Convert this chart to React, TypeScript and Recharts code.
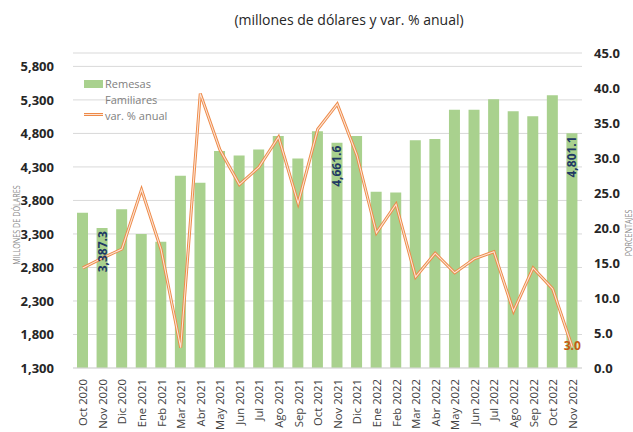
import React from 'react';
import {
  ComposedChart,
  Bar,
  Line,
  XAxis,
  YAxis,
  CartesianGrid,
  LabelList,
} from 'recharts';

const months = [
  'Oct 2020', 'Nov 2020', 'Dic 2020', 'Ene 2021', 'Feb 2021', 'Mar 2021', 'Abr 2021',
  'May 2021', 'Jun 2021', 'Jul 2021', 'Ago 2021', 'Sep 2021', 'Oct 2021', 'Nov 2021',
  'Dic 2021', 'Ene 2022', 'Feb 2022', 'Mar 2022', 'Abr 2022', 'May 2022', 'Jun 2022',
  'Jul 2022', 'Ago 2022', 'Sep 2022', 'Oct 2022', 'Nov 2022',
];

const remesas = [
  3616, 3387.3, 3667, 3299, 3185, 4167, 4063, 4539, 4471, 4560, 4762, 4426, 4832, 4661.6,
  4762, 3929, 3920, 4698, 4718, 5155, 5155, 5309, 5130, 5056, 5368, 4801.1,
];

const variacion = [
  14.3, 15.7, 17.0, 25.5, 16.9, 2.9, 39.2, 31.2, 26.2, 28.7, 33.0, 23.5, 34.1, 37.7,
  30.4, 19.3, 23.4, 13.0, 16.4, 13.6, 15.6, 16.6, 8.1, 14.3, 11.3, 3.0,
];

const leftTicks = [1300, 1800, 2300, 2800, 3300, 3800, 4300, 4800, 5300, 5800];
const rightTicks = [0, 5, 10, 15, 20, 25, 30, 35, 40, 45];
const barLabelIdx = [1, 13, 25];
const lineLabelIdx = [25];

const data = months.map((m, i) => ({ mes: m, remesas: remesas[i], variacion: variacion[i] }));

const FONT = '"Open Sans", sans-serif';

const XTick = (props: any) => {
  const { x, y, payload } = props;
  return (
    <text
      x={x}
      y={y}
      transform={`rotate(-90, ${x}, ${y})`}
      textAnchor="end"
      dominantBaseline="central"
      fontSize={11.3}
      fontFamily={FONT}
      fill="#404040"
    >
      {payload.value}
    </text>
  );
};

const BarLabel = (props: any) => {
  const { x, y, width, value, index } = props;
  if (!barLabelIdx.includes(index)) return null;
  const cx = x + width / 2;
  const ty = y + 3;
  return (
    <text
      x={cx}
      y={ty}
      transform={`rotate(-90, ${cx}, ${ty})`}
      textAnchor="end"
      dominantBaseline="central"
      fontSize={12}
      fontWeight="bold"
      fontFamily={FONT}
      fill="#203864"
    >
      {Number(value).toLocaleString('en-US', { minimumFractionDigits: 1, maximumFractionDigits: 1 })}
    </text>
  );
};

const LineLabel = (props: any) => {
  const { x, y, value, index } = props;
  if (!lineLabelIdx.includes(index)) return null;
  return (
    <text
      x={x}
      y={y - 2}
      textAnchor="middle"
      dominantBaseline="central"
      fontSize={12}
      fontWeight="bold"
      fontFamily={FONT}
      fill="#C55A11"
    >
      {Number(value).toFixed(1)}
    </text>
  );
};

export default function App() {
  return (
    <div style={{ position: 'absolute', left: 0, top: 0, width: 633, height: 432, background: '#fff' }}>
      <ComposedChart
        width={633}
        height={432}
        data={data}
        margin={{ top: 53, right: 0, bottom: 0, left: 0 }}
        barCategoryGap={0}
      >
        <CartesianGrid yAxisId="left" vertical={false} stroke="#d9d9d9" strokeWidth={1} />
        <XAxis
          dataKey="mes"
          interval={0}
          height={64}
          tick={<XTick />}
          tickLine={false}
          axisLine={{ stroke: '#d9d9d9' }}
          tickMargin={5}
        />
        <YAxis
          yAxisId="left"
          orientation="left"
          width={73}
          domain={[1300, 6000]}
          ticks={leftTicks}
          allowDataOverflow
          axisLine={false}
          tickLine={false}
          tickMargin={13}
          tick={{ fontSize: 13, fontWeight: 'bold', fontFamily: FONT, fill: '#262626' }}
          tickFormatter={(v: number) => v.toLocaleString('en-US')}
        />
        <YAxis
          yAxisId="right"
          orientation="right"
          width={51}
          domain={[0, 45]}
          ticks={rightTicks}
          axisLine={false}
          tickLine={false}
          tickMargin={6}
          tick={{ fontSize: 13, fontWeight: 'bold', fontFamily: FONT, fill: '#262626', textAnchor: 'start' }}
          tickFormatter={(v: number) => v.toFixed(1)}
        />
        <Bar yAxisId="left" dataKey="remesas" fill="#A9D18E" barSize={11} isAnimationActive={false}>
          <LabelList dataKey="remesas" content={<BarLabel />} />
        </Bar>
        <Line
          yAxisId="right"
          dataKey="variacion"
          stroke="#EE8A48"
          strokeWidth={3}
          dot={false}
          isAnimationActive={false}
        />
        <Line
          yAxisId="right"
          dataKey="variacion"
          stroke="#FCE4D6"
          strokeWidth={1.1}
          dot={false}
          isAnimationActive={false}
        >
          <LabelList dataKey="variacion" content={<LineLabel />} />
        </Line>
      </ComposedChart>

      <div
        style={{
          position: 'absolute', left: 0, top: 10, width: 698, textAlign: 'center',
          fontFamily: FONT, fontSize: 14, color: '#262626', whiteSpace: 'nowrap',
        }}
      >
        (millones de dólares y var. % anual)
      </div>

      <div style={{ position: 'absolute', left: 16, top: 225, width: 0, height: 0 }}>
        <div
          style={{
            position: 'absolute', left: 0, top: 0,
            transform: 'translate(-50%, -50%) rotate(-90deg) scaleX(0.8)',
            fontFamily: FONT, fontSize: 9, color: '#8c8c8c', whiteSpace: 'nowrap',
          }}
        >
          MILLONES DE DÓLARES
        </div>
      </div>

      <div style={{ position: 'absolute', left: 628, top: 233, width: 0, height: 0 }}>
        <div
          style={{
            position: 'absolute', left: 0, top: 0,
            transform: 'translate(-50%, -50%) rotate(-90deg) scaleX(0.8)',
            fontFamily: FONT, fontSize: 9, color: '#8c8c8c', whiteSpace: 'nowrap',
          }}
        >
          PORCENTAJES
        </div>
      </div>

      <div style={{ position: 'absolute', left: 84, top: 80, width: 19, height: 8, background: '#A9D18E' }} />
      <div
        style={{
          position: 'absolute', left: 105, top: 76, fontFamily: FONT, fontSize: 11,
          color: '#808080', lineHeight: '16px',
        }}
      >
        Remesas
        <br />
        Familiares
        <br />
        var. % anual
      </div>
      <div style={{ position: 'absolute', left: 84, top: 113, width: 19, height: 3, background: '#EE8A48' }} />
      <div style={{ position: 'absolute', left: 84, top: 114, width: 19, height: 1, background: '#FCE4D6' }} />
    </div>
  );
}
